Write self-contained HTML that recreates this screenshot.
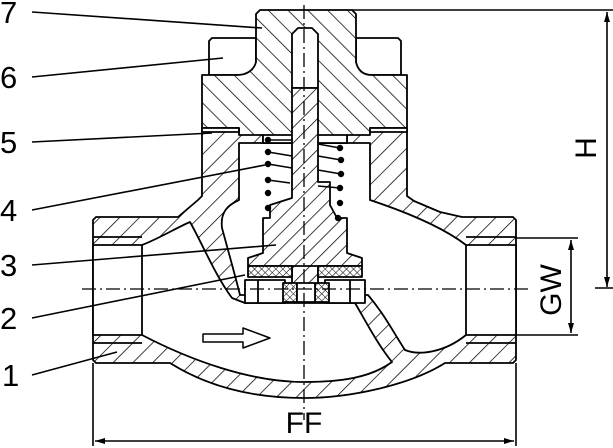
<!DOCTYPE html>
<html><head><meta charset="utf-8"><style>
html,body{margin:0;padding:0;background:#fff;}
svg{display:block;}
text{font-family:"Liberation Sans",Arial,sans-serif;fill:#000;}
</style></head><body>
<svg width="613" height="448" viewBox="0 0 613 448" xmlns="http://www.w3.org/2000/svg">
<defs>
<pattern id="hf" width="14" height="14" patternUnits="userSpaceOnUse" patternTransform="rotate(45)">
<rect width="14" height="14" fill="#fff"/><line x1="0" y1="0" x2="0" y2="14" stroke="#000" stroke-width="1.5"/></pattern>
<pattern id="hb" width="14" height="14" patternUnits="userSpaceOnUse" patternTransform="rotate(-45)">
<rect width="14" height="14" fill="#fff"/><line x1="0" y1="0" x2="0" y2="14" stroke="#000" stroke-width="1.5"/></pattern>
<pattern id="hd" width="11" height="11" patternUnits="userSpaceOnUse" patternTransform="rotate(45)">
<rect width="11" height="11" fill="#fff"/><line x1="0" y1="0" x2="0" y2="11" stroke="#000" stroke-width="1.5"/></pattern>
<pattern id="hx" width="5" height="5" patternUnits="userSpaceOnUse" patternTransform="rotate(45)">
<rect width="5" height="5" fill="#fff"/><line x1="0" y1="0" x2="0" y2="5" stroke="#000" stroke-width="1"/><line x1="0" y1="0" x2="5" y2="0" stroke="#000" stroke-width="1"/></pattern>
<marker id="ar" viewBox="0 0 10 6" refX="10" refY="3" markerWidth="16" markerHeight="6" markerUnits="userSpaceOnUse" orient="auto-start-reverse"><path d="M0,0 L10,3 L0,6 Z" fill="#000"/></marker>
</defs>
<g stroke="#000" stroke-width="1.8" stroke-linejoin="round">
<path fill="url(#hf)" d="M93,220 L96,217 L178,217 L198,200 L202,196 L202,128 L407,128 L407,196 L414,201 L440,212 L462,217 L513,217 L516,220 L516,360 L513,363 L445,363 C410,385 350,398 304,398 C250,398 205,385 170,363 L96,363 L93,360 Z"/>
<path fill="#fff" d="M93,245 L142,245 C160,238 176,228 190,222 C203,245 215,275 232,298 L245,303 L355,303 C365,320 378,345 392,362 C370,378 340,382 304,382 C250,382 190,360 142,335 L93,335 Z"/>
<path fill="#fff" d="M239,143 L370,143 L370,200 C400,210 440,225 466,245 L516,245 L516,335 L466,335 C445,352 420,356 405,350 C395,335 385,315 368,295 L240,295 C235,275 228,250 222,228 C220,212 228,205 239,200 Z"/>
<line x1="142" y1="245" x2="142" y2="335"/><line x1="466" y1="245" x2="466" y2="335"/>
<line x1="93" y1="237" x2="142" y2="237"/><line x1="466" y1="237" x2="516" y2="237"/>
<line x1="93" y1="343" x2="142" y2="343"/><line x1="466" y1="343" x2="516" y2="343"/>
<path fill="#fff" d="M209,41 L212,38 L256,38 L256,75 L209,75 Z"/>
<path fill="#fff" d="M356,38 L398,38 L401,41 L401,75 L356,75 Z"/>
<path fill="url(#hb)" d="M256,14 L260,10 L352,10 L356,14 L356,62 C358,71 364,75 372,75 L407,75 L407,128 L370,128 L370,135 L347,135 L347,143 L263,143 L263,135 L239,135 L239,128 L202,128 L202,75 L237,75 C247,75 254,70 256,62 Z"/>
<rect x="202" y="128" width="37" height="4" fill="#fff"/><rect x="370" y="128" width="37" height="4" fill="#fff"/>
<path fill="#fff" d="M292,34 L298,28 L312,28 L318,34 L318,88 L292,88 Z"/>
<rect x="263" y="135" width="84" height="8" fill="#fff"/>
<path fill="url(#hd)" d="M292,88 L318,88 L318,182 L330,182 L330,205 L337,218 L347,218 L347,253 L362,258 L362,266 L292,266 L292,300 L318,300 L318,266 L248,266 L248,258 L263,253 L263,218 L270,218 L270,205 L292,198 Z"/>
<rect x="248" y="266" width="44" height="11" fill="url(#hx)"/>
<rect x="318" y="266" width="44" height="11" fill="url(#hx)"/>
<path fill="#fff" d="M245,280 L285,280 L285,303 L245,303 Z"/>
<path fill="#fff" d="M325,280 L365,280 L365,303 L325,303 Z"/>
<rect x="283" y="283" width="14" height="19" fill="url(#hx)"/>
<rect x="315" y="283" width="14" height="19" fill="url(#hx)"/>
<rect x="297" y="283" width="18" height="19" fill="#fff"/>
<line x1="258" y1="280" x2="258" y2="303"/><line x1="350" y1="280" x2="350" y2="303"/>
<path fill="#fff" stroke-width="1.5" d="M203,334 L243,334 L243,328 L270,338 L243,348 L243,342 L203,342 Z"/>
</g>
<g fill="#000" stroke="#000" stroke-width="1.4">
<circle cx="268" cy="140" r="2.5"/><circle cx="268" cy="152" r="2.5"/><circle cx="268" cy="164" r="2.5"/><circle cx="268" cy="180" r="2.5"/><circle cx="268" cy="193" r="2.5"/><circle cx="268" cy="208" r="2.5"/>
<circle cx="340" cy="148" r="2.5"/><circle cx="341" cy="160" r="2.5"/><circle cx="341" cy="174" r="2.5"/><circle cx="340" cy="188" r="2.5"/><circle cx="340" cy="203" r="2.5"/><circle cx="338" cy="218" r="2.5"/>
<path fill="none" d="M268,140 L292,140 M268,152 L292,156 M268,164 L292,168 M268,180 L290,183 M318,144 L340,148 M318,156 L341,160 M318,170 L341,174 M318,186 L340,188"/>
</g>
<g stroke="#000" stroke-width="1.3" stroke-dasharray="14,4,2,4" fill="none">
<line x1="304" y1="5" x2="304" y2="420"/>
<line x1="82" y1="289" x2="530" y2="289"/>
</g>
<g stroke="#000" stroke-width="1.6" fill="none">
<line x1="32" y1="12" x2="262" y2="28"/>
<line x1="32" y1="77" x2="223" y2="58"/>
<line x1="32" y1="142" x2="212" y2="133"/>
<line x1="32" y1="210" x2="265" y2="165"/>
<line x1="32" y1="265" x2="276" y2="245"/>
<line x1="32" y1="318" x2="245" y2="275"/>
<line x1="32" y1="375" x2="117" y2="352"/>
<line x1="93" y1="363" x2="93" y2="446"/><line x1="516" y1="363" x2="516" y2="446"/>
<line x1="95" y1="441" x2="514" y2="441" marker-start="url(#ar)" marker-end="url(#ar)"/>
<line x1="352" y1="10" x2="613" y2="10"/>
<line x1="607" y1="12" x2="607" y2="287" marker-start="url(#ar)" marker-end="url(#ar)"/>
<line x1="595" y1="288" x2="613" y2="288"/>
<line x1="516" y1="238" x2="578" y2="238"/><line x1="516" y1="335" x2="578" y2="335"/>
<line x1="571" y1="240" x2="571" y2="333" marker-start="url(#ar)" marker-end="url(#ar)"/>
</g>
<g font-size="31">
<text x="0" y="23">7</text><text x="0" y="88">6</text><text x="0" y="153">5</text><text x="0" y="221">4</text><text x="0" y="276">3</text><text x="0" y="329">2</text><text x="2" y="386">1</text>
<text x="304" y="433" text-anchor="middle" font-size="30">FF</text>
<text transform="translate(596,148) rotate(-90)" text-anchor="middle" font-size="30">H</text>
<text transform="translate(561,290) rotate(-90)" text-anchor="middle" font-size="30">GW</text>
</g>
</svg>
</body></html>
